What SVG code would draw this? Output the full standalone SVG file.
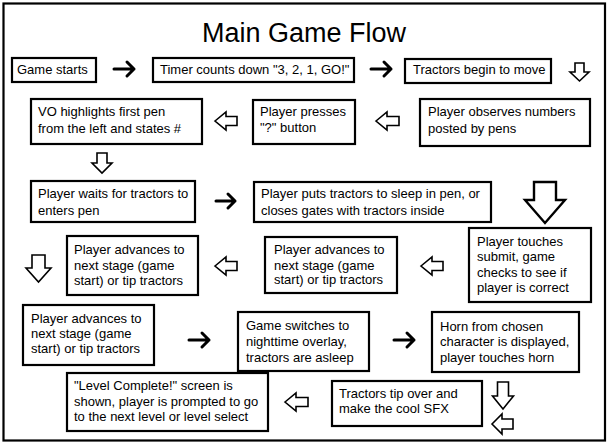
<svg xmlns="http://www.w3.org/2000/svg" width="609" height="445" viewBox="0 0 609 445">
<style>
.frame{fill:#fff;stroke:#000;stroke-width:2.2}
.box{fill:#fff;stroke:#000;stroke-width:2.2}
.t{font-family:"Liberation Sans",Arial,sans-serif;font-size:13px;fill:#000}
.title{font-family:"Liberation Sans",Arial,sans-serif;font-size:27px;fill:#000;text-anchor:middle}
.sa{fill:none;stroke:#000;stroke-width:3;stroke-linecap:round;stroke-linejoin:round}
.ha{fill:#fff;stroke:#000;stroke-width:1.6;stroke-linejoin:miter}
.hb{fill:#fff;stroke:#000;stroke-width:2.4;stroke-linejoin:miter}
</style>
<rect class="frame" x="3.5" y="3.5" width="601.5" height="437"/>
<text class="title" x="304" y="42">Main Game Flow</text>

<g id="n1"><rect class="box" x="12" y="58" width="84" height="24"/><text class="t" x="17" y="74">Game starts</text></g>
<g id="n2"><rect class="box" x="153" y="58" width="201" height="24"/><text class="t" x="160" y="74">Timer counts down "3, 2, 1, GO!"</text></g>
<g id="n3"><rect class="box" x="405" y="59" width="146" height="24"/><text class="t" x="413" y="74">Tractors begin to move</text></g>

<g id="n4"><rect class="box" x="31" y="99" width="171" height="45"/><text class="t" x="38" y="116">VO highlights first pen</text><text class="t" x="38" y="133">from the left and states #</text></g>
<g id="n5"><rect class="box" x="253" y="100" width="102" height="44"/><text class="t" x="260" y="116">Player presses</text><text class="t" x="260" y="132">"?" button</text></g>
<g id="n6"><rect class="box" x="420" y="99" width="170" height="47"/><text class="t" x="428" y="116">Player observes numbers</text><text class="t" x="428" y="133">posted by pens</text></g>

<g id="n7"><rect class="box" x="31" y="181" width="164" height="41"/><text class="t" x="38" y="198">Player waits for tractors to</text><text class="t" x="38" y="214.5">enters pen</text></g>
<g id="n8"><rect class="box" x="254" y="182" width="237" height="40"/><text class="t" x="261" y="198">Player puts tractors to sleep in pen, or</text><text class="t" x="261" y="214.5">closes gates with tractors inside</text></g>

<g id="n9"><rect class="box" x="67" y="236" width="131" height="59"/><text class="t" x="74" y="254">Player advances to</text><text class="t" x="74" y="269.5">next stage (game</text><text class="t" x="74" y="285">start) or tip tractors</text></g>
<g id="n10"><rect class="box" x="265" y="237" width="132" height="56"/><text class="t" x="274" y="254">Player advances to</text><text class="t" x="274" y="269.5">next stage (game</text><text class="t" x="274" y="284">start) or tip tractors</text></g>
<g id="n11"><rect class="box" x="469" y="228" width="122" height="74"/><text class="t" x="477" y="245.5">Player touches</text><text class="t" x="477" y="261">submit, game</text><text class="t" x="477" y="276.5">checks to see if</text><text class="t" x="477" y="291.5">player is correct</text></g>

<g id="n12"><rect class="box" x="23" y="305" width="131" height="60"/><text class="t" x="31" y="323">Player advances to</text><text class="t" x="31" y="338">next stage (game</text><text class="t" x="31" y="353">start) or tip tractors</text></g>
<g id="n13"><rect class="box" x="238" y="312" width="131" height="59"/><text class="t" x="246" y="330">Game switches to</text><text class="t" x="246" y="346">nighttime overlay,</text><text class="t" x="246" y="362">tractors are asleep</text></g>
<g id="n14"><rect class="box" x="432" y="312" width="147" height="60"/><text class="t" x="440" y="331">Horn from chosen</text><text class="t" x="440" y="346">character is displayed,</text><text class="t" x="440" y="361.5">player touches horn</text></g>

<g id="n15"><rect class="box" x="67" y="373" width="201" height="58"/><text class="t" x="74" y="390">"Level Complete!" screen is</text><text class="t" x="74" y="405.5">shown, player is prompted to go</text><text class="t" x="74" y="420.5">to the next level or level select</text></g>
<g id="n16"><rect class="box" x="332" y="381" width="150" height="45"/><text class="t" x="339" y="397.5">Tractors tip over and</text><text class="t" x="339" y="412.5">make the cool SFX</text></g>

<g id="connectors">
<path class="sa" d="M114 69H134M127 62L134 69L127 76"/>
<path class="sa" d="M371 69H391M384 62L391 69L384 76"/>
<path class="sa" d="M216 201H235M228 194L235 201L228 208"/>
<path class="sa" d="M189 340H209M202 333L209 340L202 347"/>
<path class="sa" d="M394 340H414M407 333L414 340L407 347"/>

<path class="ha" d="M575 63H584V72H589L579.5 81L570 72H575Z"/>
<path class="ha" d="M97 153H107V163H112L102 173L92 163H97Z"/>
<path class="ha" d="M32 255H45V268H51L38.5 282L26 268H32Z"/>
<path class="hb" d="M534 182H556V200H565L545 223L525 200H534Z"/>
<path class="ha" d="M497.5 382H508.5V396H513.5L503 409L492.5 396H497.5Z"/>

<path class="ha" d="M215 121L226 112V116.5H237V125.5H226V130Z"/>
<path class="ha" d="M376 121L387 112V116.5H399V125.5H387V130Z"/>
<path class="ha" d="M215 266L226 257V261.5H237V270.5H226V275Z"/>
<path class="ha" d="M421 266L432 257V261.5H443V270.5H432V275Z"/>
<path class="ha" d="M285 402L296 393V397.5H308V406.5H296V411Z"/>
<path class="ha" d="M492 424L502 414V419H513V429H502V434Z"/>
</g>
</svg>
